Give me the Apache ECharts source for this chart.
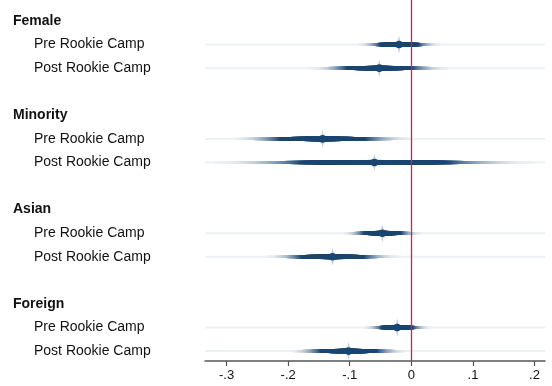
<!DOCTYPE html>
<html><head><meta charset="utf-8">
<script src="https://cdn.jsdelivr.net/npm/echarts@6/dist/echarts.min.js"></script>
<style>html,body{margin:0;padding:0;background:#fff}#c{width:552px;height:386px}</style>
</head><body><div id="c"></div>
<script>
var groups = ["Female", "Minority", "Asian", "Foreign"];
var periods = ["Pre Rookie Camp", "Post Rookie Camp"];
var estimates = [-0.020, -0.052, -0.144, -0.060, -0.047, -0.128, -0.023, -0.102];
var lower = [-0.088, -0.166, -0.295, -0.319, -0.112, -0.238, -0.078, -0.201];
var upper = [0.048, 0.063, 0.006, 0.200, 0.018, -0.018, 0.032, -0.003];
var xTicks = [-0.3, -0.2, -0.1, 0, 0.1, 0.2];
var xMin = -0.335, xMax = 0.217;

// build row list: header, pre, post, blank ...
var rowLabels = [], rowIsHeader = [], data = [];
groups.forEach(function (g, gi) {
  rowLabels.push(g); rowIsHeader.push(true);
  periods.forEach(function (p, pi) {
    var k = gi * 2 + pi;
    data.push([rowLabels.length, estimates[k], lower[k], upper[k]]);
    rowLabels.push(p); rowIsHeader.push(false);
  });
  if (gi < groups.length - 1) { rowLabels.push(""); rowIsHeader.push(false); }
});
var rowIdx = rowLabels.map(function (_, i) { return i; });

var DARK = [26, 69, 112], LIGHT = [236, 240, 244];
function mix(t) {
  var c = DARK.map(function (d, i) { return Math.round(LIGHT[i] + (d - LIGHT[i]) * t); });
  return 'rgb(' + c.join(',') + ')';
}
var ZMAX = 2.576;

function renderItem(params, api) {
  var row = api.value(0), est = api.value(1), lo = api.value(2), hi = api.value(3);
  var cs = params.coordSys;
  var c = api.coord([est, row]);
  var cy = c[1], cx = c[0];
  var se = (hi - lo) / 2 / ZMAX;
  var children = [];
  children.push({ type: 'rect', shape: { x: cs.x, y: cy - 1, width: cs.width, height: 2 }, style: { fill: '#edf1f3' } });
  var N = 70;
  for (var k = 0; k < N; k++) {
    var z = ZMAX * (1 - k / N);
    var l = api.coord([est - se * z, row])[0];
    var r = api.coord([est + se * z, row])[0];
    var t = Math.min(1, Math.max(0, (ZMAX - z) / (ZMAX - 1.2)));
    var th = 2 + 1.6 * Math.pow(t, 1.5) + 1.6 * Math.max(0, 1 - z / 1.2);
    children.push({ type: 'rect', shape: { x: l, y: cy - th / 2, width: r - l, height: th }, style: { fill: mix(Math.pow(t, 2.0)) } });
  }
  children.push({ type: 'polygon', shape: { points: [[cx, cy - 9], [cx + 2, cy], [cx, cy + 9], [cx - 2, cy]] }, style: { fill: '#c2cfdb' } });
  children.push({ type: 'polygon', shape: { points: [[cx - 8, cy], [cx, cy - 3.2], [cx + 8, cy], [cx, cy + 3.2]] }, style: { fill: mix(1) } });
  children.push({ type: 'circle', shape: { cx: cx, cy: cy, r: 3.8 }, style: { fill: mix(1) } });
  return { type: 'group', children: children };
}

var font = "'Liberation Sans', Arial, Helvetica, sans-serif";
var chart = echarts.init(document.getElementById('c'), null, { renderer: 'canvas' });
chart.setOption({
  animation: false,
  grid: { left: 205, right: 7, top: 0, bottom: 25, containLabel: false },
  xAxis: {
    type: 'value', min: xMin, max: xMax,
    axisLine: { show: true, onZero: false, lineStyle: { color: '#555', width: 1.5 } },
    axisTick: { show: true, length: 5, lineStyle: { color: '#555', width: 1.2 }, customValues: xTicks },
    axisLabel: { customValues: xTicks, margin: 8, fontSize: 13, color: '#111', fontFamily: font,
      formatter: function (v) { var s = (Math.round(v * 10) / 10).toString(); return s.replace('0.', '.'); } },
    splitLine: { show: false }
  },
  yAxis: {
    type: 'value', inverse: true, min: -0.89, max: 14.42,
    axisLine: { show: false }, axisTick: { show: false }, splitLine: { show: false },
    axisLabel: {
      customValues: rowIdx, align: 'left', margin: 192, fontFamily: font,
      formatter: function (v) {
        var i = Math.round(v); var s = rowLabels[i];
        if (!s) return '';
        return rowIsHeader[i] ? '{h|' + s + '}' : '{s|' + s + '}';
      },
      rich: {
        h: { fontWeight: 'bold', fontSize: 14, color: '#111', fontFamily: font },
        s: { fontSize: 14, color: '#111', fontFamily: font, padding: [0, 0, 0, 21] }
      }
    }
  },
  series: [
    { type: 'custom', renderItem: renderItem, data: data, encode: { x: [1, 2, 3], y: 0 }, z: 2 },
    { type: 'line', data: [], z: 5,
      markLine: { silent: true, symbol: 'none', label: { show: false },
        lineStyle: { color: '#c8264c', width: 1.3, type: 'solid' }, data: [{ xAxis: 0 }] } }
  ]
});
</script></body></html>
